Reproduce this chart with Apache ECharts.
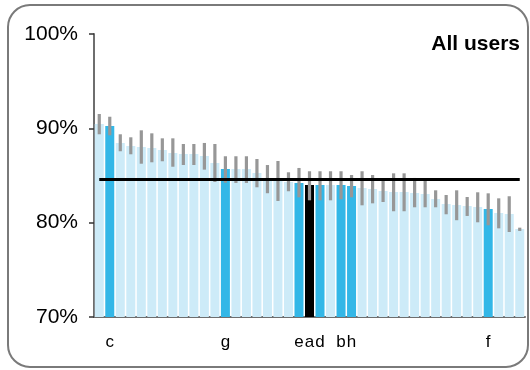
<!DOCTYPE html>
<html><head><meta charset="utf-8">
<script src="https://cdn.jsdelivr.net/npm/echarts@6/dist/echarts.min.js"></script>
<style>html,body{margin:0;padding:0;background:#fff}#c{width:530px;height:370px}</style>
</head><body><div id="c"></div>
<script>
const categories = ['', 'c', '', '', '', '', '', '', '', '', '', '', 'g', '', '', '', '', '', '', 'e', 'a', 'd', '', 'b', 'h', '', '', '', '', '', '', '', '', '', '', '', '', 'f', '', '', ''];
const values = [90.46, 90.25, 88.45, 88.13, 88.02, 87.92, 87.70, 87.39, 87.28, 87.28, 87.07, 86.33, 85.69, 85.69, 85.69, 85.27, 84.55, 84.42, 84.31, 84.21, 83.99, 83.99, 83.99, 83.99, 83.89, 83.68, 83.57, 83.36, 83.25, 83.25, 83.15, 83.04, 82.51, 81.98, 81.87, 81.77, 81.66, 81.45, 81.03, 80.92, 79.33];
const errHigh = [91.52, 91.23, 89.37, 89.05, 89.79, 89.47, 88.94, 88.94, 88.34, 88.34, 88.45, 88.34, 87.04, 87.04, 87.04, 86.75, 86.11, 86.54, 85.34, 85.80, 85.45, 85.45, 85.45, 85.45, 85.05, 85.45, 85.05, 84.42, 85.23, 85.23, 84.74, 84.42, 83.43, 82.93, 83.43, 82.72, 83.22, 83.11, 82.58, 82.80, 79.47];
const errLow = [89.37, 89.26, 87.57, 87.25, 86.25, 86.40, 86.51, 85.93, 86.11, 86.11, 85.62, 84.31, 84.24, 84.21, 84.21, 83.75, 83.12, 82.30, 83.33, 82.69, 82.37, 82.37, 82.37, 82.48, 82.69, 81.84, 82.05, 82.19, 81.21, 81.21, 81.63, 81.63, 81.63, 80.89, 80.26, 80.71, 80.04, 79.72, 79.40, 79.01, 79.12];
const meanValue = 84.63;
const yTicks = [70, 80, 90, 100];
const titleText = 'All users';

const LIGHT = '#cdebf8', DARK = '#33b7e7', BLACK = '#000000';
const font = '"Liberation Sans", Arial, sans-serif';

const barData = values.map((v, i) => ({
  value: v,
  itemStyle: { color: categories[i] === 'a' ? BLACK : (categories[i] ? DARK : LIGHT) }
}));

const chart = echarts.init(document.getElementById('c'), null, { renderer: 'canvas' });
chart.setOption({
  animation: false,
  backgroundColor: '#fff',
  title: {
    text: titleText, right: 5, top: 29,
    textStyle: { fontFamily: font, fontSize: 21, fontWeight: 'bold', color: '#000' }
  },
  graphic: [{
    type: 'rect', silent: true, z: -1,
    shape: { x: 8, y: 5, width: 520, height: 362, r: 22 },
    style: { fill: 'none', stroke: '#7a7a7a', lineWidth: 2 }
  }],
  grid: { left: 94, right: 5, top: 34, bottom: 53 },
  xAxis: {
    type: 'category', data: categories,
    axisLine: { lineStyle: { color: '#6e6e6e', width: 2 } },
    axisTick: { show: false },
    axisLabel: { interval: 0, margin: 17, fontFamily: font, fontSize: 17, color: '#000' }
  },
  yAxis: {
    type: 'value', min: yTicks[0], max: yTicks[yTicks.length - 1], interval: 10,
    splitLine: { show: false },
    axisLine: { show: true, lineStyle: { color: '#6e6e6e', width: 2 } },
    axisTick: { show: true, length: 5, lineStyle: { color: '#333', width: 1.5 } },
    axisLabel: { formatter: '{value}%', margin: 16, fontFamily: font, fontSize: 21, color: '#000' }
  },
  series: [
    {
      type: 'bar', data: barData, barWidth: 9, z: 2,
      markLine: {
        silent: true, symbol: 'none', z: 6,
        label: { show: false },
        lineStyle: { color: '#000', width: 3, type: 'solid' },
        data: [[{ coord: [0, meanValue] }, { coord: [categories.length - 1, meanValue] }]]
      }
    },
    {
      type: 'custom', z: 4,
      data: values.map((v, i) => [i, errLow[i], errHigh[i]]),
      renderItem: function (params, api) {
        const lo = api.coord([api.value(0), api.value(1)]);
        const hi = api.coord([api.value(0), api.value(2)]);
        return {
          type: 'line',
          shape: { x1: lo[0], y1: lo[1], x2: hi[0], y2: hi[1] },
          style: { stroke: '#979797', lineWidth: 3.2 }
        };
      }
    }
  ]
});
</script></body></html>
